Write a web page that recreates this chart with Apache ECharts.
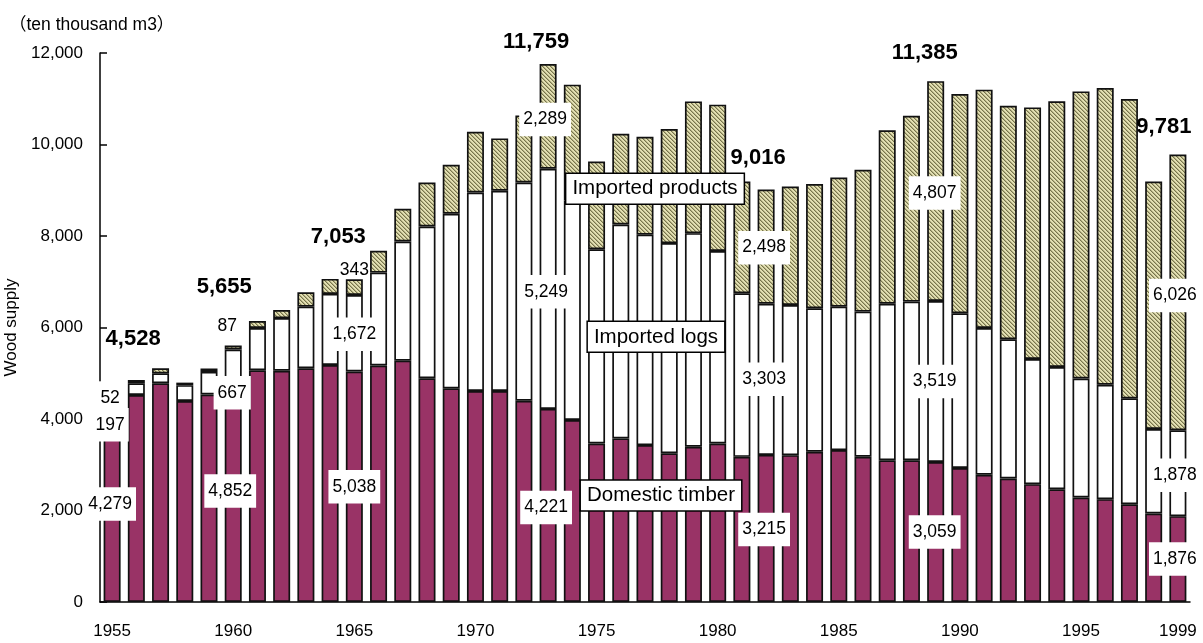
<!DOCTYPE html>
<html>
<head>
<meta charset="utf-8">
<title>Wood supply</title>
<script src="https://cdn.jsdelivr.net/npm/echarts@6/dist/echarts.min.js"></script>
<style>
  html, body { margin: 0; padding: 0; background: #fff; }
  #woodSupply { width: 1203px; height: 643px; }
</style>
</head>
<body>
<div id="woodSupply"></div>
<script>
// 年份（类目轴）
const years = ['1955','1956','1957','1958','1959','1960','1961','1962','1963','1964',
  '1965','1966','1967','1968','1969','1970','1971','1972','1973','1974',
  '1975','1976','1977','1978','1979','1980','1981','1982','1983','1984',
  '1985','1986','1987','1988','1989','1990','1991','1992','1993','1994',
  '1995','1996','1997','1998','1999'];

// 国产材
const domestic = [4279, 4524, 4780, 4395, 4535, 4852, 5065, 5056, 5108, 5180,
  5038, 5170, 5275, 4890, 4670, 4611, 4611, 4400, 4221, 3977,
  3466, 3576, 3430, 3250, 3392, 3466, 3173, 3215, 3210, 3283,
  3320, 3175, 3100, 3100, 3059, 2930, 2780, 2700, 2576, 2466,
  2285, 2248, 2138, 1934, 1876];

// 进口原木
const importedLogs = [197, 256, 218, 345, 495, 667, 925, 1150, 1348, 1554,
  1672, 2030, 2604, 3318, 3815, 4340, 4377, 4770, 5249, 4799,
  4246, 4675, 4600, 4595, 4670, 4205, 3576, 3303, 3283, 3137,
  3136, 3172, 3420, 3466, 3519, 3381, 3210, 3042, 2735, 2670,
  2600, 2500, 2313, 1846, 1878];

// 进口制品
const importedProducts = [52, 72, 110, 55, 75, 87, 153, 175, 315, 328,
  343, 475, 715, 963, 1072, 1329, 1145, 1466, 2289, 2532,
  1918, 1984, 2140, 2495, 2880, 3200, 2443, 2498, 2589, 2714,
  2824, 3101, 3790, 4064, 4807, 4794, 5209, 5106, 5500, 5807,
  6276, 6487, 6543, 5412, 6026];

// 标注数值的年份及其合计
const labelYears = ['1955', '1960', '1965', '1973', '1982', '1989', '1999'];
const totalLabels = [4528, 5655, 7053, 11759, 9016, 11385, 9781];

// 系列名称标注所在年份
const nameYear = '1977';

// y轴刻度
const yTicks = [0, 2000, 4000, 6000, 8000, 10000, 12000];

// ---- 标签偏移（样式，和数据分开） ----
const offsets = {
  domestic: [[-2, 0], [-3, 0], [0, 0], [-2, 2], [-2, 1], [-1, 0], [-3, 0]],
  logs:     [[-2, 23], [-1, 28], [0, 1], [-2, 3], [-2, 0], [-1, 0], [-3, 2]],
  products: [[-2, 2], [-6, -21], [0, -17], [-3, 3], [-2, 1], [-1, 2], [-3, 3]],
  total:    [[21, -56], [-9, -59], [-16, -42], [-12, -22], [-8, -32], [-11, -28], [-14, -28]]
};
const nameOffsets = { domestic: [16, -28], logs: [11, -3], products: [10, 3] };
// 透明背景的数值（和旁边柱子重叠时不遮挡）
const plainLabels = { products: ['1960', '1965'] };

const FONT = 'Arial, "Liberation Sans", "Noto Sans CJK JP", sans-serif';

// 斜线填充
function makeHatch() {
  const c = document.createElement('canvas');
  c.width = 4; c.height = 4;
  const ctx = c.getContext('2d');
  ctx.fillStyle = '#e2dfb2';
  ctx.fillRect(0, 0, 4, 4);
  ctx.fillStyle = '#77744c';
  for (let i = 0; i < 4; i++) ctx.fillRect(i, i, 1, 1);
  ctx.fillStyle = '#b3b083';
  for (let i = 0; i < 4; i++) ctx.fillRect((i + 1) % 4, i, 1, 1);
  return c;
}

function fmt(v) {
  return Number(v).toLocaleString('en-US');
}

// 生成每个柱子的数据项，带标签的年份单独设置
function buildData(values, key, seriesName) {
  return values.map(function (v, i) {
    const year = years[i];
    const k = labelYears.indexOf(year);
    if (k >= 0) {
      const plain = (plainLabels[key] || []).indexOf(year) >= 0;
      return {
        value: v,
        label: {
          show: true,
          position: 'inside',
          offset: offsets[key][k],
          formatter: fmt(v),
          color: '#000',
          fontSize: 17.5,
          fontFamily: FONT,
          backgroundColor: plain ? 'transparent' : '#fff',
          padding: plain ? [0, 0] : [8, 4]
        }
      };
    }
    if (year === nameYear) {
      return {
        value: v,
        label: {
          show: true,
          position: 'inside',
          offset: nameOffsets[key],
          formatter: seriesName,
          color: '#000',
          fontSize: 20.5,
          fontFamily: FONT,
          backgroundColor: '#fff',
          borderColor: '#000',
          borderWidth: 1.5,
          padding: [5, 6, 4, 6]
        }
      };
    }
    return v;
  });
}

// 合计：高度为0的柱子叠在最上面，只用来放标签
const totalData = years.map(function (y) {
  const k = labelYears.indexOf(y);
  if (k < 0) return '-';
  return {
    value: 0,
    label: {
      show: true,
      position: 'inside',
      offset: offsets.total[k],
      formatter: fmt(totalLabels[k]),
      color: '#000',
      fontSize: 22,
      fontWeight: 'bold',
      fontFamily: FONT
    }
  };
});

const barStyle = {
  borderColor: '#111',
  borderWidth: 1.7
};

const woodChart = echarts.init(document.getElementById('woodSupply'), null, { renderer: 'canvas' });

const woodOption = {
  animation: false,
  backgroundColor: '#fff',
  title: {
    text: '（ten thousand m3）',
    left: 4,
    top: 11,
    textStyle: { fontSize: 17.5, fontWeight: 'normal', color: '#000', fontFamily: FONT }
  },
  grid: {
    left: 100,
    right: 13,
    top: 53,
    bottom: 41,
    containLabel: false,
    outerBoundsMode: 'none'
  },
  xAxis: {
    type: 'category',
    data: years,
    axisLine: { lineStyle: { color: '#000', width: 1.5 } },
    axisTick: { show: false },
    axisLabel: {
      color: '#000',
      fontSize: 17,
      fontFamily: FONT,
      margin: 21,
      interval: function (idx, val) {
        return idx % 5 === 0 || val === '1999';
      }
    }
  },
  yAxis: {
    type: 'value',
    min: yTicks[0],
    max: yTicks[yTicks.length - 1],
    interval: yTicks[1] - yTicks[0],
    name: 'Wood supply',
    nameLocation: 'middle',
    nameRotate: 90,
    nameGap: 76,
    nameTextStyle: { color: '#000', fontSize: 17, fontFamily: FONT },
    axisLine: { show: true, lineStyle: { color: '#000', width: 1.5 } },
    axisTick: { show: true, inside: true, length: 7, lineStyle: { color: '#000', width: 1.5 } },
    axisLabel: {
      color: '#000',
      fontSize: 17,
      fontFamily: FONT,
      margin: 17,
      formatter: function (v) { return fmt(v); }
    },
    splitLine: { show: false }
  },
  series: [
    {
      name: 'Domestic timber',
      type: 'bar',
      stack: 'wood',
      barWidth: 17,
      itemStyle: Object.assign({ color: '#993366' }, barStyle),
      data: buildData(domestic, 'domestic', 'Domestic timber')
    },
    {
      name: 'Imported logs',
      type: 'bar',
      stack: 'wood',
      barWidth: 17,
      itemStyle: Object.assign({ color: '#fff' }, barStyle),
      data: buildData(importedLogs, 'logs', 'Imported logs')
    },
    {
      name: 'Imported products',
      type: 'bar',
      stack: 'wood',
      barWidth: 17,
      itemStyle: Object.assign({ color: { image: makeHatch(), repeat: 'repeat' } }, barStyle),
      data: buildData(importedProducts, 'products', 'Imported products')
    },
    {
      name: 'Total',
      type: 'bar',
      stack: 'wood',
      barWidth: 17,
      itemStyle: { color: 'transparent', borderWidth: 0 },
      data: totalData
    }
  ]
};

woodChart.setOption(woodOption, true);
</script>
</body>
</html>
